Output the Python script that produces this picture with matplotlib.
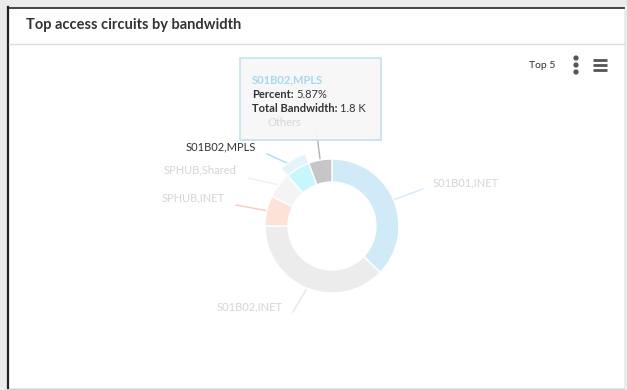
import numpy as np
import matplotlib.pyplot as plt
from matplotlib.patches import Rectangle, Wedge

plt.rcParams['font.family'] = ['Lato', 'DejaVu Sans']

# data
labels = ['S01B01,INET', 'S01B02,INET', 'SPHUB,INET', 'SPHUB,Shared', 'S01B02,MPLS', 'Others']
percent = [37.2, 37.8, 7.3, 6.2, 5.87, 5.63]
colors = ['#d0eaf8', '#ececec', '#fde2d8', '#f4f4f4', '#c8f6fd', '#c6c6c6']
line_colors = ['#d3ebf8', '#e6e6e6', '#f8cbbb', '#f0f0f0', '#a9ddf3', '#b4b4b4']
hovered = 'S01B02,MPLS'
tooltip_bandwidth = '1.8 K'

W, H = 627, 390
fig = plt.figure(figsize=(W / 100, H / 100), dpi=100)
ax = fig.add_axes([0, 0, 1, 1])
ax.set_xlim(0, W)
ax.set_ylim(0, H)
ax.set_aspect('equal')
ax.axis('off')


def fy(y):
    return H - y


# page background and card
ax.add_patch(Rectangle((0, 0), W, H, color='#ebebeb', zorder=0))
ax.add_patch(Rectangle((8, fy(388)), 616, 381, facecolor='white', edgecolor='none', zorder=1))
ax.plot([8, 8], [fy(7), fy(388)], color='#222222', lw=1.6, zorder=2)
ax.plot([8, 624], [fy(7.5), fy(7.5)], color='#222222', lw=1.2, zorder=2)
ax.plot([9, 624], [fy(44), fy(44)], color='#dcdcdc', lw=1.0, zorder=2)
ax.plot([9, 624], [fy(388.5), fy(388.5)], color='#cfcfcf', lw=1.0, zorder=2)
ax.text(26, fy(25), 'Top access circuits by bandwidth', fontsize=10.5, fontweight='bold',
        color='#333333', va='center', ha='left', zorder=3)

# top-right controls
ax.text(529, fy(65), 'Top 5', fontsize=7.5, color='#333333', va='center', ha='left', zorder=3)
for dy in (58, 65, 72):
    ax.add_patch(plt.Circle((576, fy(dy)), 1.9, color='#555555', zorder=3))
for dy in (60, 65, 70):
    ax.plot([593, 607], [fy(dy), fy(dy)], color='#555555', lw=2.0, solid_capstyle='butt', zorder=3)

# donut
cx, cy, r_out, ring = 332, fy(226), 67, 23
wedges, _ = ax.pie(percent, colors=colors, startangle=90, counterclock=False,
                   center=(cx, cy), radius=r_out, frame=True,
                   wedgeprops=dict(width=ring, edgecolor='white', linewidth=1.0))
for w in wedges:
    w.set_zorder(4)
ax.set_xlim(0, W)
ax.set_ylim(0, H)
ax.axis('off')

# halo on the hovered slice
hw = wedges[labels.index(hovered)]
ax.add_patch(Wedge((cx, cy), r_out + 10, hw.theta1, hw.theta2, width=10,
                   facecolor='#e4f4fb', edgecolor='white', lw=0.8, zorder=4))

# labels with connectors (label anchor positions in pixels)
label_pos = {
    'S01B01,INET': (433, 183, 'left', (423, 189)),
    'S01B02,INET': (283, 307, 'right', (293, 312)),
    'SPHUB,INET': (225, 198, 'right', (236, 205)),
    'SPHUB,Shared': (236, 170, 'right', (248, 178)),
    'S01B02,MPLS': (256, 147, 'right', (267, 154)),
    'Others': (301, 123, 'right', (316, 128)),
}
for w, lab, lc in zip(wedges, labels, line_colors):
    mid = np.deg2rad((w.theta1 + w.theta2) / 2)
    sx, sy = cx + (r_out + 1) * np.cos(mid), cy + (r_out + 1) * np.sin(mid)
    tx, ty, ha, (ex, ey) = label_pos[lab]
    ax.plot([sx, ex], [sy, fy(ey)], color=lc, lw=1.0, zorder=3)
    tcol = '#333333' if lab == hovered else '#d4d4d4'
    ax.text(tx, fy(ty), lab, fontsize=8, color=tcol, ha=ha, va='center', zorder=3)

# tooltip
ax.add_patch(Rectangle((241, fy(141)), 141, 83, facecolor='#bbbbbb', alpha=0.25,
                       edgecolor='none', zorder=5))
ax.add_patch(Rectangle((240, fy(140)), 141, 82, facecolor='#f8f8f8', alpha=0.93,
                       edgecolor='#bfe1f2', lw=1.2, zorder=6))
ax.text(252, fy(80), hovered, fontsize=8, fontweight='bold', color='#a6d8f0',
        ha='left', va='center', zorder=7)
ax.text(301, fy(123), 'Others', fontsize=8, color='#d8d8d8', ha='right', va='center', zorder=7)

i = labels.index(hovered)
renderer = fig.canvas.get_renderer()
inv = ax.transData.inverted()
for y, key, val in [(94, 'Percent:', f'{percent[i]:.2f}%'),
                    (108, 'Total Bandwidth:', tooltip_bandwidth)]:
    t = ax.text(252, fy(y), key, fontsize=8, fontweight='bold', color='#333333',
                ha='left', va='center', zorder=7)
    x_end = inv.transform(t.get_window_extent(renderer).get_points())[1, 0]
    ax.text(x_end + 3, fy(y), val, fontsize=8, color='#333333',
            ha='left', va='center', zorder=7)

fig.savefig('out.png', dpi=100)
